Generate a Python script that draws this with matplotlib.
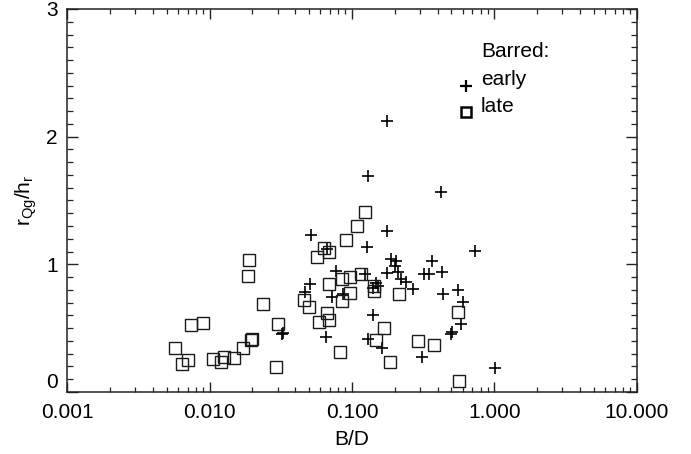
import matplotlib
matplotlib.use("Agg")
import matplotlib.pyplot as plt
from matplotlib.ticker import LogLocator, FixedLocator, MultipleLocator, NullFormatter

plt.rcParams['font.family'] = ['Liberation Sans', 'DejaVu Sans']
plt.rcParams['mathtext.fontset'] = 'custom'
plt.rcParams['mathtext.rm'] = 'Liberation Sans'
plt.rcParams['mathtext.it'] = 'Liberation Sans'

# Barred galaxies, early types (plus markers)
early_bd = [0.177, 0.129, 0.420, 0.0513, 0.177, 0.127, 0.735, 0.0664, 0.188, 0.205,
            0.200, 0.177, 0.209, 0.221, 0.241, 0.268, 0.365, 0.321, 0.349, 0.431,
            0.0772, 0.123, 0.0507, 0.0467, 0.0720, 0.0869, 0.147, 0.153, 0.141, 0.434,
            0.556, 0.600, 0.586, 0.507, 0.499, 0.0329, 0.0321, 0.0657, 0.141, 0.130,
            0.163, 0.310, 1.011]
early_r = [2.123, 1.692, 1.563, 1.226, 1.259, 1.138, 1.104, 1.120, 1.038, 1.026,
           0.987, 0.932, 0.940, 0.885, 0.862, 0.807, 1.024, 0.922, 0.922, 0.938,
           0.948, 0.927, 0.848, 0.786, 0.746, 0.765, 0.856, 0.833, 0.817, 0.765,
           0.795, 0.707, 0.530, 0.468, 0.452, 0.460, 0.452, 0.433, 0.601, 0.417,
           0.347, 0.272, 0.186]

# Barred galaxies, late types (open squares)
late_bd = [0.123, 0.108, 0.0903, 0.0639, 0.0693, 0.0568, 0.115, 0.0973, 0.0855, 0.0693,
           0.143, 0.142, 0.213, 0.0973, 0.0460, 0.0499, 0.0847, 0.0671, 0.0690, 0.0587,
           0.556, 0.167, 0.148, 0.291, 0.379, 0.0824, 0.184, 0.565, 0.0189, 0.0187,
           0.0237, 0.00743, 0.00902, 0.0302, 0.00574, 0.00701, 0.00643, 0.0106, 0.0126, 0.0121,
           0.0148, 0.0172, 0.0195, 0.0199, 0.0291]
late_r = [1.408, 1.300, 1.191, 1.130, 1.097, 1.057, 0.924, 0.903, 0.885, 0.846,
          0.830, 0.793, 0.765, 0.778, 0.718, 0.666, 0.710, 0.616, 0.562, 0.551,
          0.624, 0.501, 0.407, 0.402, 0.366, 0.316, 0.237, 0.086, 1.034, 0.909,
          0.689, 0.525, 0.543, 0.530, 0.345, 0.253, 0.217, 0.258, 0.272, 0.235,
          0.269, 0.342, 0.407, 0.415, 0.193]

xticks = [0.001, 0.01, 0.1, 1, 10]
xticklabels = ['0.001', '0.010', '0.100', '1.000', '10.000']
yticks = [0, 1, 2, 3]

FS = 15
INK = '#222222'

fig = plt.figure(figsize=(6.91, 4.54), dpi=100)
ax = fig.add_axes([0.0974, 0.1366, 0.8240, 0.8436])

ax.plot(early_bd, early_r, ls='none', marker='+', ms=8, mew=1.2, color='black')
ax.plot(late_bd, late_r, ls='none', marker='s', ms=8, mew=1.0,
        mfc='none', mec='#1a1a1a')

ax.set_xscale('log')
ax.set_xlim(0.001, 10)
ax.set_ylim(0, 3)

ax.xaxis.set_major_locator(FixedLocator(xticks))
ax.set_xticklabels(xticklabels)
ax.xaxis.set_minor_locator(LogLocator(base=10, subs=range(2, 10), numticks=20))
ax.xaxis.set_minor_formatter(NullFormatter())
ax.yaxis.set_major_locator(FixedLocator(yticks))
ax.set_yticklabels([str(v) for v in yticks])
ax.yaxis.set_minor_locator(MultipleLocator(0.1))

ax.tick_params(axis='both', which='both', direction='in', top=True, right=True,
               colors=INK, labelcolor='black', labelsize=FS)
ax.tick_params(axis='x', which='major', length=7, width=1.0, pad=8)
ax.tick_params(axis='x', which='minor', length=3.5, width=0.9)
ax.tick_params(axis='y', which='major', length=8, width=1.0, pad=7)
ax.tick_params(axis='y', which='minor', length=4.5, width=0.9)

# IDL style: the end labels sit inside the axis range
for lab in ax.get_yticklabels():
    if lab.get_text() == '0':
        lab.set_verticalalignment('bottom')
    elif lab.get_text() == '3':
        lab.set_y(2.98)

for sp in ax.spines.values():
    sp.set_linewidth(1.1)
    sp.set_color(INK)

ax.set_xlabel('B/D', fontsize=FS, labelpad=6)
ax.set_ylabel(r'r$_{\rm Qg}$/h$_{\rm r}$', fontsize=FS, labelpad=5)

# legend drawn by hand
ax.text(0.7266, 0.8877, 'Barred:', transform=ax.transAxes, fontsize=FS, va='center', ha='left')
ax.text(0.7266, 0.8146, 'early', transform=ax.transAxes, fontsize=FS, va='center', ha='left')
ax.text(0.7266, 0.7467, 'late', transform=ax.transAxes, fontsize=FS, va='center', ha='left')
ax.plot([0.6997], [0.7997], transform=ax.transAxes, marker='+', ms=8, mew=1.6, color='black')
ax.plot([0.700], [0.7303], transform=ax.transAxes, marker='s', ms=7, mew=1.8,
        mfc='none', mec='black')

fig.savefig('out.png', dpi=100)
